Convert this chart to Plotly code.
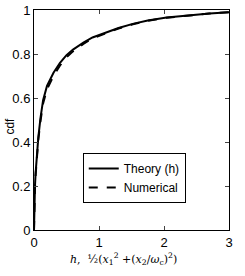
import plotly.graph_objects as go

theory_x = [0, 0.002, 0.005, 0.01, 0.015, 0.025, 0.04, 0.066, 0.1, 0.14, 0.2, 0.3, 0.4, 0.5, 0.6, 0.76, 0.9, 1.12, 1.3, 1.52, 1.75, 2.04, 2.4, 2.7, 3.0]
theory_y = [0, 0.08, 0.12, 0.17, 0.2, 0.26, 0.33, 0.42, 0.51, 0.59, 0.655, 0.715, 0.76, 0.795, 0.82, 0.852, 0.875, 0.90, 0.918, 0.937, 0.952, 0.966, 0.977, 0.984, 0.99]

num_x = [0, 0.002, 0.005, 0.01, 0.015, 0.025, 0.04, 0.066, 0.1, 0.14, 0.2, 0.3, 0.4, 0.5, 0.6, 0.76, 0.9, 1.12, 1.3, 1.52, 1.75, 2.04, 2.4, 2.7, 3.0]
num_y = [0, 0.07, 0.11, 0.16, 0.19, 0.25, 0.32, 0.41, 0.495, 0.575, 0.64, 0.70, 0.748, 0.785, 0.812, 0.846, 0.871, 0.897, 0.916, 0.935, 0.951, 0.965, 0.976, 0.984, 0.99]

x_ticks = [0, 1, 2, 3]
y_ticks = [0, 0.2, 0.4, 0.6, 0.8, 1]
y_ticklabels = ["0", "0.2", "0.4", "0.6", "0.8", "1"]

fig = go.Figure()
fig.add_trace(go.Scatter(x=theory_x, y=theory_y, mode="lines", name="Theory (h)",
                         line=dict(color="black", width=2)))
fig.add_trace(go.Scatter(x=num_x, y=num_y, mode="lines", name="Numerical",
                         line=dict(color="black", width=2, dash="dash")))

font = dict(family="Liberation Sans, Arial, sans-serif", size=13, color="black")
fig.update_layout(
    width=245, height=276,
    margin=dict(l=34, r=16, t=10, b=46),
    paper_bgcolor="white", plot_bgcolor="white",
    font=font,
    showlegend=True,
    legend=dict(x=0.25, y=0.35, xanchor="left", yanchor="top",
                bordercolor="black", borderwidth=1, bgcolor="white",
                font=dict(family="Liberation Sans, Arial, sans-serif", size=12),
                tracegroupgap=0, itemwidth=30),
    annotations=[
        dict(text="<i>h</i>,  ½(<i>x</i><sub>1</sub><sup>2</sup> +(<i>x</i><sub>2</sub>/<i>ω</i><sub>c</sub>)<sup>2</sup>)",
             xref="paper", yref="paper", x=0.46, y=-0.13, xanchor="center", yanchor="middle",
             showarrow=False, font=dict(family="DejaVu Serif, serif", size=11, color="black")),
        dict(text="cdf", xref="paper", yref="paper", x=-0.123, y=0.47, xanchor="center", yanchor="middle",
             textangle=-90, showarrow=False,
             font=dict(family="Liberation Sans, Arial, sans-serif", size=12, color="black")),
    ],
)
fig.update_xaxes(range=[0, 3], tickvals=x_ticks, ticks="inside", ticklen=4, automargin=False,
                 showline=True, linecolor="black", linewidth=1, mirror="ticks",
                 showgrid=False, zeroline=False, tickfont=font)
fig.update_yaxes(range=[0, 1], tickvals=y_ticks, ticktext=y_ticklabels, ticks="inside", ticklen=4,
                 automargin=False,
                 showline=True, linecolor="black", linewidth=1, mirror="ticks",
                 showgrid=False, zeroline=False, tickfont=font)

fig.write_html("out.html", config={"displayModeBar": False},
               post_script="document.body.style.margin='0px';")
